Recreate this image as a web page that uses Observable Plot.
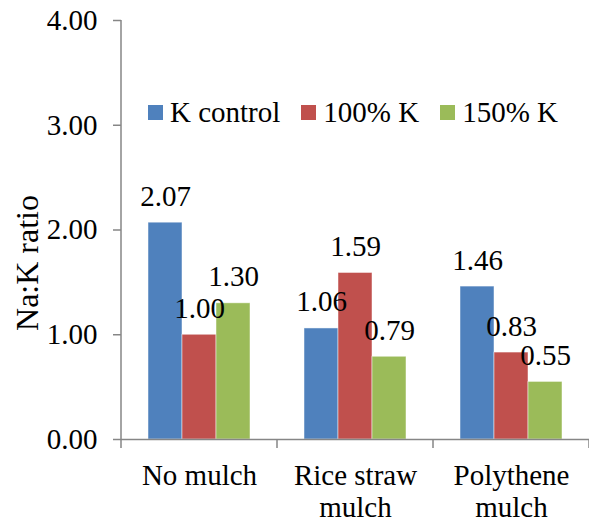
<!DOCTYPE html>
<html><head><meta charset="utf-8">
<script src="https://cdn.jsdelivr.net/npm/d3@7"></script>
<script src="https://cdn.jsdelivr.net/npm/@observablehq/plot@0.6"></script>
<style>
body{margin:0;background:#fff;}
#wrap{position:relative;width:589px;height:528px;font-family:"Liberation Serif","Tinos","Times New Roman","DejaVu Serif",serif;}
#wrap svg, #wrap svg text{font-family:"Liberation Serif","Tinos","Times New Roman","DejaVu Serif",serif !important;}
#legend{position:absolute;left:148px;top:96px;}
#ylab{position:absolute;left:27px;top:263px;transform:translate(-50%,-50%) rotate(-90deg);font-size:32px;line-height:1;white-space:nowrap;color:#000;}
.lg-swatches, .lg-swatch{font-family:"Liberation Serif","Tinos","Times New Roman","DejaVu Serif",serif !important;font-size:29px !important;margin:0 !important;color:#000;}
.lg-swatches-wrap{min-height:30px !important;}
.lg-swatch{margin-right:21px !important;}
.lg-swatch > svg{margin-right:7px !important;}
</style></head><body><div id="wrap"><div id="legend"></div><div id="ylab"></div></div>
<script>
const categories = ["No mulch", "Rice straw mulch", "Polythene mulch"];
const categoryLabels = ["No mulch", "Rice straw\nmulch", "Polythene\nmulch"];
const series = ["K control", "100% K", "150% K"];
const kControl = [2.07, 1.06, 1.46];
const k100 = [1.00, 1.59, 0.83];
const k150 = [1.30, 0.79, 0.55];
const colors = ["#4F81BD", "#C0504D", "#9BBB59"];
const yTicks = [0, 1, 2, 3, 4];
const yLabel = "Na:K ratio";

const seriesValues = [kControl, k100, k150];
const data = [];
categories.forEach((c, i) => series.forEach((s, j) => data.push({cat: c, series: s, value: seriesValues[j][i]})));

const font = '"Liberation Serif","Tinos","Times New Roman","DejaVu Serif",serif';
const axisColor = "#868686";

const chart = Plot.plot({
  width: 589, height: 528,
  marginLeft: 121, marginRight: 0, marginTop: 20, marginBottom: 89,
  style: {fontFamily: font, fontSize: "29px", color: "#000", background: "#fff", overflow: "visible"},
  fx: {domain: categories, padding: 0, label: null},
  x: {domain: series, paddingInner: 0, paddingOuter: 0.75, axis: null},
  y: {domain: [0, 4], label: null},
  color: {domain: series, range: colors},
  marks: [
    Plot.barY(data, {fx: "cat", x: "series", y: "value", fill: "series", stroke: "#fff", strokeOpacity: 0.6, strokeWidth: 0.8}),
    Plot.ruleY([0], {stroke: axisColor, strokeWidth: 1.5}),
    Plot.text(data, {fx: "cat", x: "series", y: "value", text: d => d.value.toFixed(2), lineAnchor: "bottom", dy: -17, fontSize: 29, fontFamily: font, fill: "#000"}),
    Plot.axisY({ticks: yTicks, tickFormat: d3.format(".2f"), tickSize: 8, tickPadding: 16, stroke: axisColor, strokeWidth: 1.5, fontSize: 29, fontFamily: font, fill: "#000", label: null}),
    Plot.axisFx({anchor: "bottom", tickSize: 0, tickPadding: 22, tickFormat: d => categoryLabels[categories.indexOf(d)], lineHeight: 1.12, fontSize: 29, fontFamily: font, fill: "#000", label: null})
  ]
});

document.getElementById("wrap").prepend(chart);
document.getElementById("ylab").textContent = yLabel;

// axis lines and category boundary ticks using the plot's scales
const fx = chart.scale("fx");
const y = chart.scale("y");
const svg = d3.select(chart);
const y0 = y.apply(0), y4 = y.apply(4);
const xLeft = fx.apply(categories[0]);
svg.append("line").attr("x1", xLeft).attr("x2", xLeft).attr("y1", y4).attr("y2", y0)
  .attr("stroke", axisColor).attr("stroke-width", 1.5);
const bounds = categories.map(c => fx.apply(c)).concat([fx.apply(categories[categories.length - 1]) + fx.bandwidth]);
bounds.forEach(b => {
  svg.append("line").attr("x1", b).attr("x2", b).attr("y1", y0).attr("y2", y0 + 9)
    .attr("stroke", axisColor).attr("stroke-width", 1.5);
});

const legend = chart.legend("color", {swatchSize: 15, className: "lg"});
document.getElementById("legend").append(legend);
</script>
</body></html>
